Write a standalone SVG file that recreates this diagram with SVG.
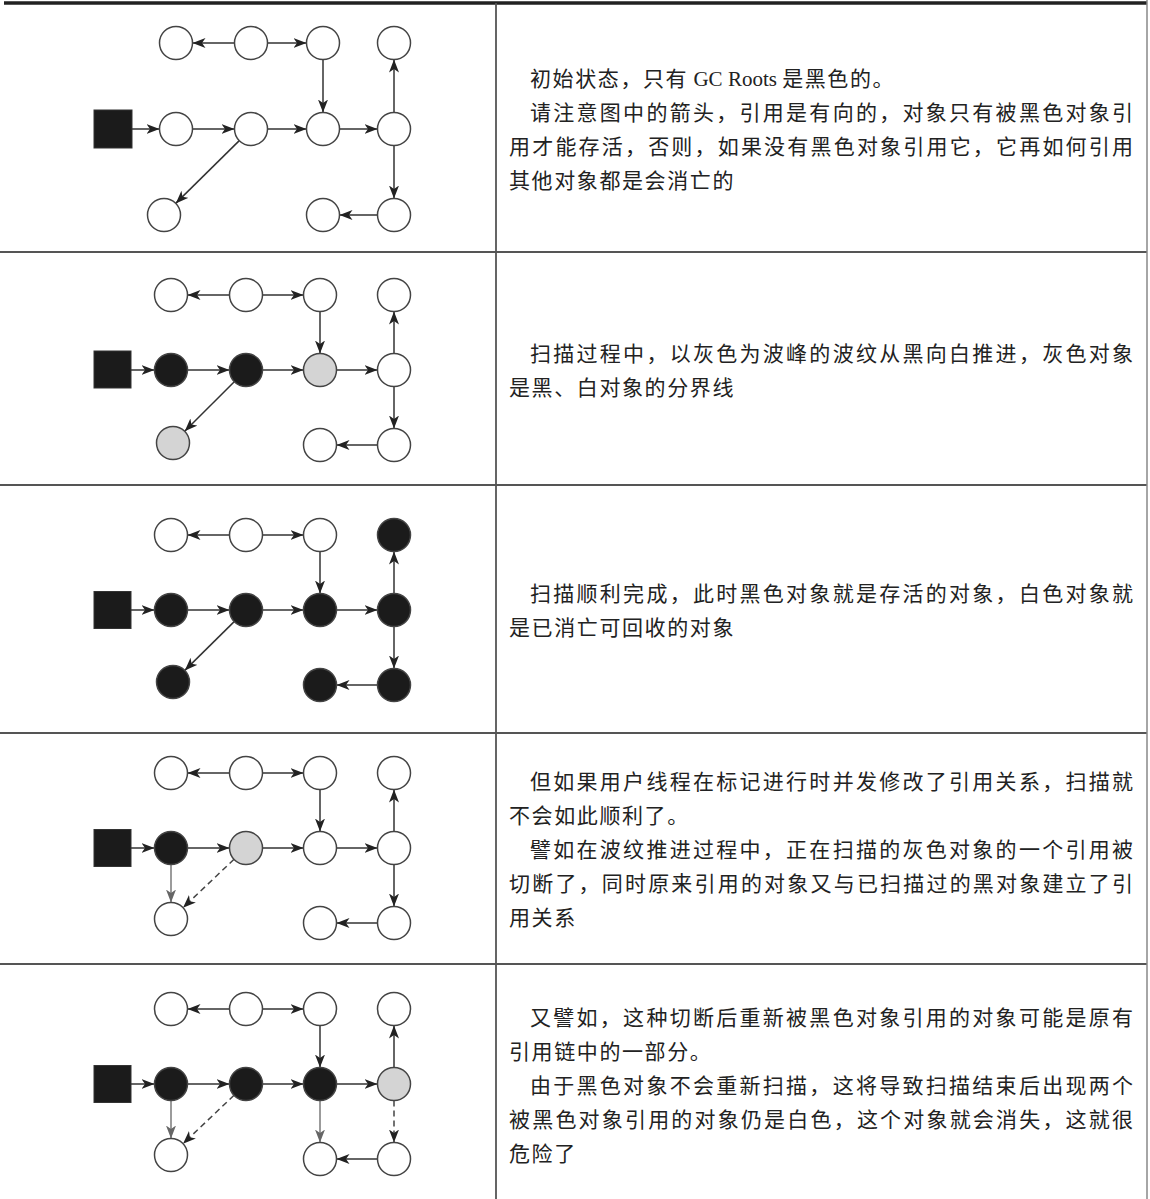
<svg xmlns="http://www.w3.org/2000/svg" width="1150" height="1199" viewBox="0 0 1150 1199">
<style>
.bg{fill:#fff}
.grid{stroke:#555;stroke-width:1.8;fill:none}
.n{stroke:#444;stroke-width:1.5}
.w{fill:#fff}
.k{fill:#1b1b1b}
.y{fill:#d4d4d4}
.sq{fill:#1b1b1b;stroke:#333;stroke-width:1}
.e{stroke:#333;stroke-width:1.5;fill:none;marker-end:url(#ah)}
.g{stroke:#7a7a7a;marker-end:url(#ahg)}
.d{stroke:#444;stroke-dasharray:6 4}
.t{font-family:"Liberation Serif","Noto Sans CJK SC",serif;font-size:21px;fill:#222}
.s{letter-spacing:1.6px}
.lat{letter-spacing:0}
</style>
<defs>
<marker id="ah" markerUnits="userSpaceOnUse" markerWidth="15" markerHeight="11" refX="13" refY="5" orient="auto"><path d="M0,0 L13,5 L0,10 L3.5,5 z" fill="#222"/></marker>
<marker id="ahg" markerUnits="userSpaceOnUse" markerWidth="15" markerHeight="11" refX="13" refY="5" orient="auto"><path d="M0,0 L13,5 L0,10 L3.5,5 z" fill="#666"/></marker>
</defs>
<rect class="bg" x="0" y="0" width="1150" height="1199"/>
<g id="table">
<line x1="4" y1="3" x2="1147" y2="3" stroke="#222" stroke-width="3.5"/>
<line class="grid" x1="0" y1="252" x2="1147" y2="252"/>
<line class="grid" x1="0" y1="485" x2="1147" y2="485"/>
<line class="grid" x1="0" y1="733" x2="1147" y2="733"/>
<line class="grid" x1="0" y1="964" x2="1147" y2="964"/>
<line class="grid" x1="496" y1="3" x2="496" y2="1199"/>
<line x1="1147" y1="0" x2="1147" y2="1199" stroke="#888" stroke-width="1.5"/>
</g>
<g id="connectors">
<!-- row 1 -->
<line class="e" x1="234.5" y1="43" x2="192.5" y2="43"/>
<line class="e" x1="267.5" y1="43" x2="306.5" y2="43"/>
<line class="e" x1="323" y1="59.5" x2="323" y2="112.5"/>
<line class="e" x1="394" y1="112.5" x2="394" y2="59.5"/>
<line class="e" x1="132" y1="129" x2="159.5" y2="129"/>
<line class="e" x1="192.5" y1="129" x2="234.5" y2="129"/>
<line class="e" x1="267.5" y1="129" x2="306.5" y2="129"/>
<line class="e" x1="339.5" y1="129" x2="377.5" y2="129"/>
<line class="e" x1="239.3" y1="140.6" x2="175.7" y2="203.4"/>
<line class="e" x1="394" y1="145.5" x2="394" y2="198.5"/>
<line class="e" x1="377.5" y1="215" x2="339.5" y2="215"/>
<!-- row 2 -->
<line class="e" x1="229.5" y1="295" x2="187.5" y2="295"/>
<line class="e" x1="262.5" y1="295" x2="303.5" y2="295"/>
<line class="e" x1="320" y1="311.5" x2="320" y2="353.5"/>
<line class="e" x1="394" y1="353.5" x2="394" y2="311.5"/>
<line class="e" x1="131" y1="370" x2="154.5" y2="370"/>
<line class="e" x1="187.5" y1="370" x2="229.5" y2="370"/>
<line class="e" x1="262.5" y1="370" x2="303.5" y2="370"/>
<line class="e" x1="336.5" y1="370" x2="377.5" y2="370"/>
<line class="e" x1="234.3" y1="381.7" x2="184.7" y2="431.3"/>
<line class="e" x1="394" y1="386.5" x2="394" y2="428.5"/>
<line class="e" x1="377.5" y1="445" x2="336.5" y2="445"/>
<!-- row 3 -->
<line class="e" x1="229.5" y1="535" x2="187.5" y2="535"/>
<line class="e" x1="262.5" y1="535" x2="303.5" y2="535"/>
<line class="e" x1="320" y1="551.5" x2="320" y2="593.5"/>
<line class="e" x1="394" y1="593.5" x2="394" y2="551.5"/>
<line class="e" x1="131" y1="610" x2="154.5" y2="610"/>
<line class="e" x1="187.5" y1="610" x2="229.5" y2="610"/>
<line class="e" x1="262.5" y1="610" x2="303.5" y2="610"/>
<line class="e" x1="336.5" y1="610" x2="377.5" y2="610"/>
<line class="e" x1="234.2" y1="621.6" x2="184.8" y2="670.4"/>
<line class="e" x1="394" y1="626.5" x2="394" y2="668.5"/>
<line class="e" x1="377.5" y1="685" x2="336.5" y2="685"/>
<!-- row 4 -->
<line class="e" x1="229.5" y1="773" x2="187.5" y2="773"/>
<line class="e" x1="262.5" y1="773" x2="303.5" y2="773"/>
<line class="e" x1="320" y1="789.5" x2="320" y2="831.5"/>
<line class="e" x1="394" y1="831.5" x2="394" y2="789.5"/>
<line class="e" x1="131" y1="848" x2="154.5" y2="848"/>
<line class="e" x1="187.5" y1="848" x2="229.5" y2="848"/>
<line class="e" x1="262.5" y1="848" x2="303.5" y2="848"/>
<line class="e" x1="336.5" y1="848" x2="377.5" y2="848"/>
<line class="e g" x1="171" y1="864.5" x2="171" y2="902.5"/>
<line class="e d" x1="234" y1="859.3" x2="183" y2="907.7"/>
<line class="e" x1="394" y1="864.5" x2="394" y2="906.5"/>
<line class="e" x1="377.5" y1="923" x2="336.5" y2="923"/>
<!-- row 5 -->
<line class="e" x1="229.5" y1="1009" x2="187.5" y2="1009"/>
<line class="e" x1="262.5" y1="1009" x2="303.5" y2="1009"/>
<line class="e" x1="320" y1="1025.5" x2="320" y2="1067.5"/>
<line class="e" x1="394" y1="1067.5" x2="394" y2="1025.5"/>
<line class="e" x1="131" y1="1084" x2="154.5" y2="1084"/>
<line class="e" x1="187.5" y1="1084" x2="229.5" y2="1084"/>
<line class="e" x1="262.5" y1="1084" x2="303.5" y2="1084"/>
<line class="e" x1="336.5" y1="1084" x2="377.5" y2="1084"/>
<line class="e g" x1="171" y1="1100.5" x2="171" y2="1138.5"/>
<line class="e d" x1="234" y1="1095.3" x2="183" y2="1143.7"/>
<line class="e g" x1="320" y1="1100.5" x2="320" y2="1142.5"/>
<line class="e d" x1="394" y1="1100.5" x2="394" y2="1142.5"/>
<line class="e" x1="377.5" y1="1159" x2="336.5" y2="1159"/>
</g>
<!-- row 1 nodes -->
<g id="r1-root"><rect class="sq" x="94" y="110" width="38" height="38"/></g>
<g id="r1-t1"><circle class="n w" cx="176" cy="43" r="16.5"/></g>
<g id="r1-t2"><circle class="n w" cx="251" cy="43" r="16.5"/></g>
<g id="r1-t3"><circle class="n w" cx="323" cy="43" r="16.5"/></g>
<g id="r1-t4"><circle class="n w" cx="394" cy="43" r="16.5"/></g>
<g id="r1-m1"><circle class="n w" cx="176" cy="129" r="16.5"/></g>
<g id="r1-m2"><circle class="n w" cx="251" cy="129" r="16.5"/></g>
<g id="r1-m3"><circle class="n w" cx="323" cy="129" r="16.5"/></g>
<g id="r1-m4"><circle class="n w" cx="394" cy="129" r="16.5"/></g>
<g id="r1-b1"><circle class="n w" cx="164" cy="215" r="16.5"/></g>
<g id="r1-b3"><circle class="n w" cx="323" cy="215" r="16.5"/></g>
<g id="r1-b4"><circle class="n w" cx="394" cy="215" r="16.5"/></g>
<!-- row 2 nodes -->
<g id="r2-root"><rect class="sq" x="94" y="351" width="37" height="37"/></g>
<g id="r2-t1"><circle class="n w" cx="171" cy="295" r="16.5"/></g>
<g id="r2-t2"><circle class="n w" cx="246" cy="295" r="16.5"/></g>
<g id="r2-t3"><circle class="n w" cx="320" cy="295" r="16.5"/></g>
<g id="r2-t4"><circle class="n w" cx="394" cy="295" r="16.5"/></g>
<g id="r2-m1"><circle class="n k" cx="171" cy="370" r="16.5"/></g>
<g id="r2-m2"><circle class="n k" cx="246" cy="370" r="16.5"/></g>
<g id="r2-m3"><circle class="n y" cx="320" cy="370" r="16.5"/></g>
<g id="r2-m4"><circle class="n w" cx="394" cy="370" r="16.5"/></g>
<g id="r2-b1"><circle class="n y" cx="173" cy="443" r="16.5"/></g>
<g id="r2-b3"><circle class="n w" cx="320" cy="445" r="16.5"/></g>
<g id="r2-b4"><circle class="n w" cx="394" cy="445" r="16.5"/></g>
<!-- row 3 nodes -->
<g id="r3-root"><rect class="sq" x="94" y="591.5" width="37" height="37"/></g>
<g id="r3-t1"><circle class="n w" cx="171" cy="535" r="16.5"/></g>
<g id="r3-t2"><circle class="n w" cx="246" cy="535" r="16.5"/></g>
<g id="r3-t3"><circle class="n w" cx="320" cy="535" r="16.5"/></g>
<g id="r3-t4"><circle class="n k" cx="394" cy="535" r="16.5"/></g>
<g id="r3-m1"><circle class="n k" cx="171" cy="610" r="16.5"/></g>
<g id="r3-m2"><circle class="n k" cx="246" cy="610" r="16.5"/></g>
<g id="r3-m3"><circle class="n k" cx="320" cy="610" r="16.5"/></g>
<g id="r3-m4"><circle class="n k" cx="394" cy="610" r="16.5"/></g>
<g id="r3-b1"><circle class="n k" cx="173" cy="682" r="16.5"/></g>
<g id="r3-b3"><circle class="n k" cx="320" cy="685" r="16.5"/></g>
<g id="r3-b4"><circle class="n k" cx="394" cy="685" r="16.5"/></g>
<!-- row 4 nodes -->
<g id="r4-root"><rect class="sq" x="94" y="829.5" width="37" height="37"/></g>
<g id="r4-t1"><circle class="n w" cx="171" cy="773" r="16.5"/></g>
<g id="r4-t2"><circle class="n w" cx="246" cy="773" r="16.5"/></g>
<g id="r4-t3"><circle class="n w" cx="320" cy="773" r="16.5"/></g>
<g id="r4-t4"><circle class="n w" cx="394" cy="773" r="16.5"/></g>
<g id="r4-m1"><circle class="n k" cx="171" cy="848" r="16.5"/></g>
<g id="r4-m2"><circle class="n y" cx="246" cy="848" r="16.5"/></g>
<g id="r4-m3"><circle class="n w" cx="320" cy="848" r="16.5"/></g>
<g id="r4-m4"><circle class="n w" cx="394" cy="848" r="16.5"/></g>
<g id="r4-b1"><circle class="n w" cx="171" cy="919" r="16.5"/></g>
<g id="r4-b3"><circle class="n w" cx="320" cy="923" r="16.5"/></g>
<g id="r4-b4"><circle class="n w" cx="394" cy="923" r="16.5"/></g>
<!-- row 5 nodes -->
<g id="r5-root"><rect class="sq" x="94" y="1065.5" width="37" height="37"/></g>
<g id="r5-t1"><circle class="n w" cx="171" cy="1009" r="16.5"/></g>
<g id="r5-t2"><circle class="n w" cx="246" cy="1009" r="16.5"/></g>
<g id="r5-t3"><circle class="n w" cx="320" cy="1009" r="16.5"/></g>
<g id="r5-t4"><circle class="n w" cx="394" cy="1009" r="16.5"/></g>
<g id="r5-m1"><circle class="n k" cx="171" cy="1084" r="16.5"/></g>
<g id="r5-m2"><circle class="n k" cx="246" cy="1084" r="16.5"/></g>
<g id="r5-m3"><circle class="n k" cx="320" cy="1084" r="16.5"/></g>
<g id="r5-m4"><circle class="n y" cx="394" cy="1084" r="16.5"/></g>
<g id="r5-b1"><circle class="n w" cx="171" cy="1155" r="16.5"/></g>
<g id="r5-b3"><circle class="n w" cx="320" cy="1159" r="16.5"/></g>
<g id="r5-b4"><circle class="n w" cx="394" cy="1159" r="16.5"/></g>
<!-- texts -->
<g id="text-1" class="t">
<text class="s" x="530" y="86">初始状态，只有<tspan class="lat"> GC Roots </tspan>是黑色的。</text>
<text x="530" y="120" textLength="603" lengthAdjust="spacing">请注意图中的箭头，引用是有向的，对象只有被黑色对象引</text>
<text x="509" y="154" textLength="624" lengthAdjust="spacing">用才能存活，否则，如果没有黑色对象引用它，它再如何引用</text>
<text class="s" x="509" y="188">其他对象都是会消亡的</text>
</g>
<g id="text-2" class="t">
<text x="530" y="361" textLength="603" lengthAdjust="spacing">扫描过程中，以灰色为波峰的波纹从黑向白推进，灰色对象</text>
<text class="s" x="509" y="395">是黑、白对象的分界线</text>
</g>
<g id="text-3" class="t">
<text x="530" y="601" textLength="603" lengthAdjust="spacing">扫描顺利完成，此时黑色对象就是存活的对象，白色对象就</text>
<text class="s" x="509" y="635">是已消亡可回收的对象</text>
</g>
<g id="text-4" class="t">
<text x="530" y="789" textLength="603" lengthAdjust="spacing">但如果用户线程在标记进行时并发修改了引用关系，扫描就</text>
<text class="s" x="509" y="823">不会如此顺利了。</text>
<text x="530" y="857" textLength="603" lengthAdjust="spacing">譬如在波纹推进过程中，正在扫描的灰色对象的一个引用被</text>
<text x="509" y="891" textLength="624" lengthAdjust="spacing">切断了，同时原来引用的对象又与已扫描过的黑对象建立了引</text>
<text class="s" x="509" y="925">用关系</text>
</g>
<g id="text-5" class="t">
<text x="530" y="1025" textLength="603" lengthAdjust="spacing">又譬如，这种切断后重新被黑色对象引用的对象可能是原有</text>
<text class="s" x="509" y="1059">引用链中的一部分。</text>
<text x="530" y="1093" textLength="603" lengthAdjust="spacing">由于黑色对象不会重新扫描，这将导致扫描结束后出现两个</text>
<text x="509" y="1127" textLength="624" lengthAdjust="spacing">被黑色对象引用的对象仍是白色，这个对象就会消失，这就很</text>
<text class="s" x="509" y="1161">危险了</text>
</g>
</svg>
